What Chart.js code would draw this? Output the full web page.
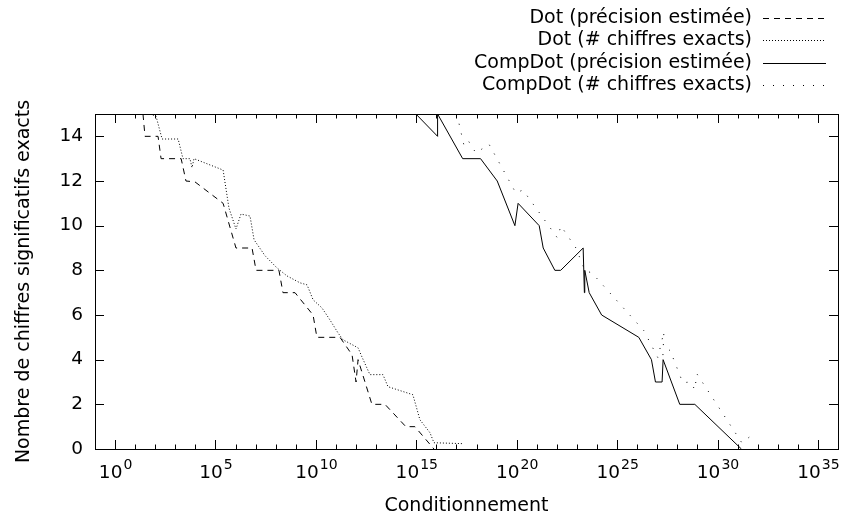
<!DOCTYPE html>
<html>
<head>
<meta charset="utf-8">
<script src="https://cdn.jsdelivr.net/npm/chart.js@4.4.1/dist/chart.umd.min.js"></script>
<style>
  html, body { margin: 0; padding: 0; background: #fff; }
  #wrap { width: 842px; height: 517px; }
</style>
</head>
<body>
<div id="wrap"><canvas id="chart" width="842" height="517"></canvas></div>
<script>
// x values are log10(conditionnement), y values are the number of digits
const dotEstCond = [1.39, 1.49, 2.14, 2.29, 3.29, 3.53, 3.98, 5.38, 6.02, 6.82, 7.02, 8.16, 8.36, 8.96, 9.86, 10.05, 11.2, 11.8, 12.0, 12.1, 12.79, 13.44, 14.48, 14.93, 15.88];
const dotEstDigits = [15, 14, 14, 13, 13, 12, 11.96, 11, 9, 9, 8, 8, 7, 7, 6, 5, 5, 4.22, 3, 4, 2, 2, 1, 1, 0];

const dotExactCond = [1.74, 2.04, 2.34, 3.14, 3.38, 3.73, 3.83, 3.93, 5.38, 5.67, 6.02, 6.27, 6.72, 6.92, 7.47, 8.06, 8.56, 9.21, 9.56, 9.86, 10.3, 10.7, 11.1, 11.35, 12.1, 12.29, 12.69, 13.34, 13.59, 14.83, 15.18, 15.68, 15.88, 17.32];
const dotExactDigits = [15, 14.9, 13.88, 13.88, 13, 13, 12.6, 13, 12.49, 10.79, 9.85, 10.52, 10.43, 9.37, 8.65, 8.11, 7.75, 7.44, 7.35, 6.68, 6.32, 5.78, 5.2, 4.89, 4.53, 4.13, 3.33, 3.33, 2.79, 2.43, 1.31, 0.73, 0.28, 0.24];

const compEstCond = [14.98, 16.06, 16.06, 17.31, 18.2, 19.03, 19.91, 20.07, 21.12, 21.32, 21.9, 22.19, 23.31, 23.37, 23.39, 23.61, 24.23, 26.08, 26.71, 26.91, 27.24, 27.29, 28.12, 28.87, 31.19];
const compEstDigits = [15, 14, 15, 13, 13, 12, 10, 11, 10, 9, 8, 8, 9, 7, 8, 7, 6, 5, 4, 3, 3, 4, 2, 2, 0];

const compExactCond = [17.02, 17.37, 17.57, 17.97, 18.62, 19.96, 20.31, 22.03, 22.2, 22.95, 23.4, 23.74, 26.33, 27.03, 27.33, 27.28, 27.63, 28.27, 28.67, 28.87, 28.97, 31.21, 31.61, 31.86];
const compExactDigits = [15, 13.61, 13.83, 13.25, 13.65, 11.46, 11.6, 9.45, 9.99, 9.0, 7.98, 7.89, 5.3, 4.09, 5.25, 4.17, 4.44, 2.97, 3.0, 2.65, 3.37, 0.28, 0.55, 0.42];

const xMajorTicks = [0, 5, 10, 15, 20, 25, 30, 35];
const yTicks = [0, 2, 4, 6, 8, 10, 12, 14];

const FONT = "'DejaVu Sans', sans-serif";

function toPoints(xs, ys) {
  return xs.map((v, i) => ({ x: v, y: ys[i] }));
}

// Frame, inward ticks, 10^n labels and the gnuplot style key
const gnuplotDecor = {
  id: 'gnuplotDecor',
  afterDraw(chart) {
    const { ctx, chartArea: a, scales: { x, y } } = chart;
    ctx.save();
    ctx.strokeStyle = '#000';
    ctx.fillStyle = '#000';
    ctx.lineWidth = 1;
    ctx.setLineDash([]);

    ctx.beginPath();
    for (let d = Math.ceil(x.min); d <= Math.floor(x.max); d++) {
      const px = Math.round(x.getPixelForValue(d)) + 0.5;
      const len = d % 5 === 0 ? 9 : 4.5;
      ctx.moveTo(px, a.bottom); ctx.lineTo(px, a.bottom - len);
      ctx.moveTo(px, a.top); ctx.lineTo(px, a.top + len);
    }
    yTicks.forEach(v => {
      const py = Math.round(y.getPixelForValue(v)) + 0.5;
      ctx.moveTo(a.left, py); ctx.lineTo(a.left + 9, py);
      ctx.moveTo(a.right, py); ctx.lineTo(a.right - 9, py);
    });
    ctx.stroke();
    ctx.strokeRect(Math.round(a.left) + 0.5, Math.round(a.top) + 0.5,
      Math.round(a.right - a.left), Math.round(a.bottom - a.top));

    // x tick labels as 10 with exponent
    ctx.textBaseline = 'alphabetic';
    ctx.textAlign = 'left';
    xMajorTicks.forEach(v => {
      const px = x.getPixelForValue(v);
      ctx.font = '18.5px ' + FONT;
      const w1 = ctx.measureText('10').width;
      ctx.font = '14px ' + FONT;
      const w2 = ctx.measureText(String(v)).width;
      const x0 = px - (w1 + w2) / 2;
      ctx.font = '18.5px ' + FONT;
      ctx.fillText('10', x0, 478);
      ctx.font = '14px ' + FONT;
      ctx.fillText(String(v), x0 + w1 + 1, 469);
    });

    // key
    ctx.font = '19px ' + FONT;
    ctx.textAlign = 'right';
    ctx.textBaseline = 'middle';
    chart.data.datasets.forEach((ds, i) => {
      const yy = 18 + i * 22.3;
      ctx.fillText(ds.label, 752, yy);
      ctx.setLineDash(ds.borderDash || []);
      ctx.beginPath();
      ctx.moveTo(763, Math.round(yy) + 0.5);
      ctx.lineTo(826, Math.round(yy) + 0.5);
      ctx.stroke();
    });
    ctx.restore();
  }
};

function makeDataset(label, xs, ys, dash) {
  return {
    label: label,
    data: toPoints(xs, ys),
    borderColor: '#000',
    borderWidth: 1,
    borderDash: dash,
    pointRadius: 0,
    tension: 0,
    fill: false
  };
}

new Chart(document.getElementById('chart'), {
  type: 'line',
  data: {
    datasets: [
      makeDataset('Dot (précision estimée)', dotEstCond, dotEstDigits, [6, 5]),
      makeDataset('Dot (# chiffres exacts)', dotExactCond, dotExactDigits, [1, 2]),
      makeDataset('CompDot (précision estimée)', compEstCond, compEstDigits, []),
      makeDataset('CompDot (# chiffres exacts)', compExactCond, compExactDigits, [1, 9])
    ]
  },
  options: {
    responsive: false,
    animation: false,
    layout: { padding: { top: 114, right: 4, left: 9, bottom: 0 } },
    plugins: {
      legend: { display: false },
      tooltip: { enabled: false }
    },
    scales: {
      x: {
        type: 'linear',
        min: -1,
        max: 36,
        grid: { display: false, drawTicks: false },
        border: { display: false },
        ticks: { display: false },
        afterBuildTicks: s => { s.ticks = xMajorTicks.map(v => ({ value: v })); },
        afterFit: s => { s.height = 68; },
        title: {
          display: true,
          text: 'Conditionnement',
          color: '#000',
          padding: { top: 4, bottom: 0 },
          font: { family: FONT, size: 19 }
        }
      },
      y: {
        type: 'linear',
        min: 0,
        max: 15,
        grid: { display: false, drawTicks: false },
        border: { display: false },
        afterBuildTicks: s => { s.ticks = yTicks.map(v => ({ value: v })); },
        afterFit: s => { s.width = 86; },
        ticks: {
          color: '#000',
          padding: 12,
          font: { family: FONT, size: 18.5 }
        },
        title: {
          display: true,
          text: 'Nombre de chiffres significatifs exacts',
          color: '#000',
          font: { family: FONT, size: 19 }
        }
      }
    }
  },
  plugins: [gnuplotDecor]
});
</script>
</body>
</html>
